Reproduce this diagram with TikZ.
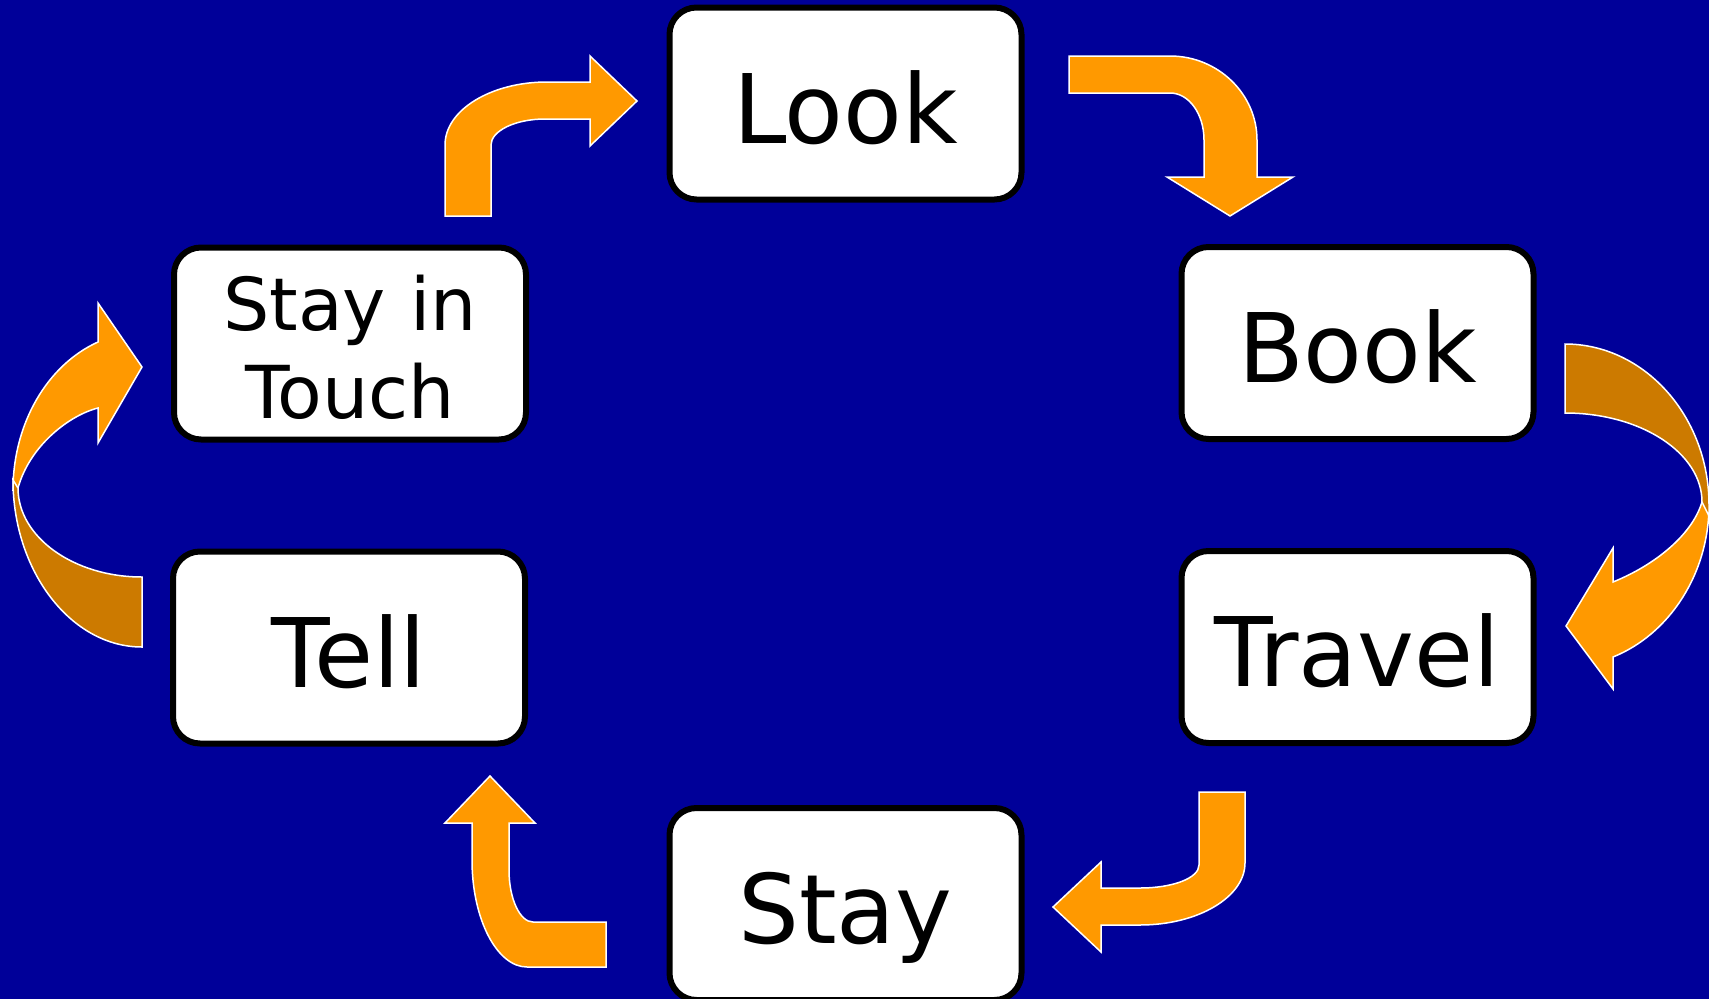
\documentclass[tikz,border=0pt]{standalone}
\usepackage{fontspec}
\setmainfont{DejaVu Sans}
\definecolor{bg}{RGB}{0,0,153}
\definecolor{orng}{RGB}{255,153,0}
\definecolor{dorng}{RGB}{204,122,0}
\tikzset{
  box/.style={draw=black, line width=6pt, fill=white, rounded corners=27pt,
    minimum width=352pt, minimum height=192pt, inner sep=0pt,
    font=\fontsize{96}{110}\selectfont, text height=79pt, text depth=0pt},
  arr/.style={fill=orng, draw=white, line width=1.5pt, line join=miter},
  darr/.style={arr, fill=dorng}
}
\begin{document}
\begin{tikzpicture}[x=1pt, y=-1pt]
\useasboundingbox (0,0) rectangle (1709,999);
\fill[bg] (0,0) rectangle (1709,999);

% Stay in Touch -> Look
\path[arr] (445,216) -- (445,145) .. controls (445,110) and (491,82) .. (547,82)
  -- (590,82) -- (590,56) -- (637,101) -- (590,146) -- (590,119) -- (545,119)
  .. controls (515,119) and (491,131) .. (491,145) -- (491,216) -- cycle;

% Look -> Book
\path[arr] (1069,56) -- (1170,56) .. controls (1218,56) and (1257,94) .. (1257,140)
  -- (1257,177) -- (1293,177) -- (1230,216) -- (1167,177) -- (1204,177) -- (1204,140)
  .. controls (1204,114) and (1189,93) .. (1170,93) -- (1069,93) -- cycle;

% Book -> Travel (curved)
\path[arr] (1702,502) -- (1709,505) .. controls (1709,573) and (1670,634) .. (1613,657)
  -- (1613,689) -- (1566,626) -- (1613,548) -- (1613,582)
  .. controls (1655,565) and (1692,535) .. (1702,502) -- cycle;
\path[darr] (1565,344) .. controls (1644,344) and (1709,416) .. (1709,505)
  -- (1709,516) -- (1702,502) .. controls (1702,453) and (1641,413) .. (1565,413) -- cycle;

% Travel -> Stay
\path[arr] (1199,792) -- (1245,792) -- (1245,863) .. controls (1245,897) and (1198,925) .. (1140,925)
  -- (1101,925) -- (1101,952) -- (1053,907) -- (1101,862) -- (1101,888) -- (1140,888)
  .. controls (1173,888) and (1199,878) .. (1199,865) -- cycle;

% Stay -> Tell
\path[arr] (606,922) -- (606,967) -- (527,967) .. controls (497,967) and (472,919) .. (472,860)
  -- (472,823) -- (445,823) -- (490,776) -- (535,823) -- (509,823) -- (509,870)
  .. controls (509,899) and (520,922) .. (533,922) -- cycle;

% Tell -> Stay in Touch (curved)
\path[arr] (18,488) -- (13,490) .. controls (13,424) and (47,365) .. (98,342)
  -- (98,303) -- (142,367) -- (98,443) -- (98,408)
  .. controls (70,415) and (30,445) .. (18,488) -- cycle;
\path[darr] (142,647) -- (142,577) .. controls (73.5,577) and (18,537) .. (18,488)
  -- (13,480) .. controls (13,571) and (71,647) .. (142,647) -- cycle;

\node[box] (look) at (845.5,103.5) {Look};
\node[box] (book) at (1357.5,343) {Book};
\node[box] (travel) at (1357.5,647) {Travel};
\node[box] (stay) at (845.5,904) {Stay};
\node[box] (tell) at (349,647.5) {Tell};
\node[box, font=\fontsize{73}{88}\selectfont, text width=340pt, align=center,
  text height=60pt, text depth=87pt] (sit) at (350,343.5) {Stay in\\Touch};
\end{tikzpicture}
\end{document}
